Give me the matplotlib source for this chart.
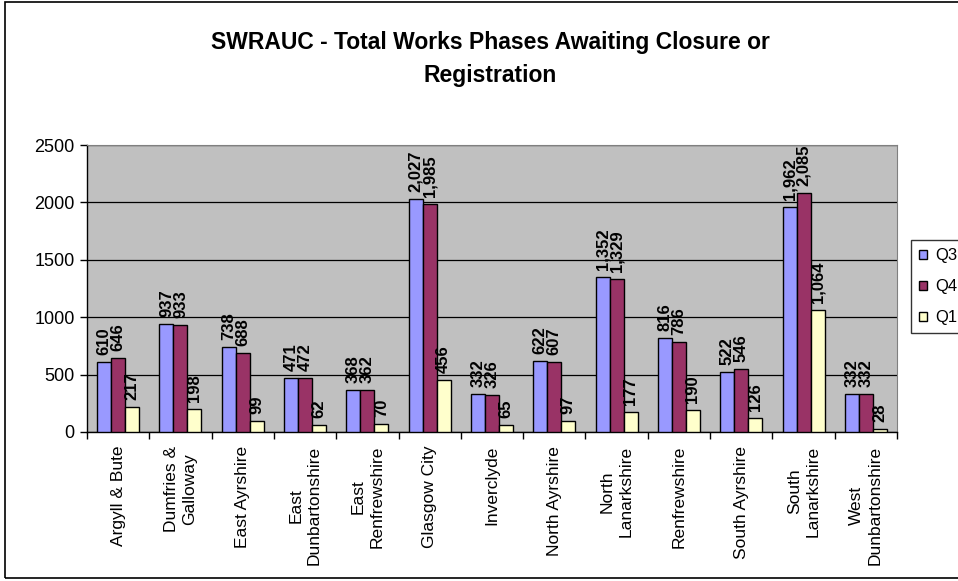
import matplotlib
matplotlib.use("Agg")
import matplotlib.pyplot as plt
import numpy as np
from matplotlib.patches import Rectangle

categories = ["Argyll & Bute", "Dumfries &\nGalloway", "East Ayrshire", "East\nDunbartonshire",
              "East\nRenfrewshire", "Glasgow City", "Inverclyde", "North Ayrshire",
              "North\nLanarkshire", "Renfrewshire", "South Ayrshire", "South\nLanarkshire",
              "West\nDunbartonshire"]
q3 = [610, 937, 738, 471, 368, 2027, 332, 622, 1352, 816, 522, 1962, 332]
q4 = [646, 933, 688, 472, 362, 1985, 326, 607, 1329, 786, 546, 2085, 332]
q1 = [217, 198, 99, 62, 70, 456, 65, 97, 177, 190, 126, 1064, 28]
series_names = ["Q3", "Q4", "Q1"]
colors = ["#9999FF", "#993366", "#FFFFCC"]
title = "SWRAUC - Total Works Phases Awaiting Closure or\nRegistration"
yticks = [0, 500, 1000, 1500, 2000, 2500]

plt.rcParams['font.family'] = ['Liberation Sans', 'DejaVu Sans']

W, H = 958, 581
fig = plt.figure(figsize=(W/100, H/100), dpi=100)
fig.patch.set_facecolor("white")
# figure border (left, top, bottom; right cut off)
fig.add_artist(Rectangle((5/W, 3/H), 1.2, (H-5)/H, transform=fig.transFigure,
                         fill=False, edgecolor="black", linewidth=1.2))

ax = fig.add_axes([87/W, (H-432)/H, (897-87)/W, (432-145)/H])
ax.set_facecolor("#C0C0C0")

x = np.arange(len(categories))
bw = 0.225
for i, (vals, c, name) in enumerate(zip([q3, q4, q1], colors, series_names)):
    pos = x + (i - 1) * bw
    ax.bar(pos, vals, width=bw, color=c, edgecolor="black", linewidth=1.0, label=name, zorder=3)
    for p, v in zip(pos, vals):
        ax.annotate(f"{v:,}", (p, v), xytext=(0, 5), textcoords="offset points",
                    rotation=90, ha="center", va="bottom",
                    fontsize=12, fontweight="bold", zorder=4)

ax.set_xlim(-0.5, len(categories) - 0.5)
ax.set_ylim(0, 2500)
ax.set_yticks(yticks)
ax.set_yticklabels([str(t) for t in yticks], fontsize=13)
ax.yaxis.grid(True, color="black", linewidth=0.9, zorder=1)
ax.set_axisbelow(True)

ax.set_xticks(x)
ax.set_xticklabels(categories, rotation=90, fontsize=12.5, ha="center", va="top",
                   multialignment="center", linespacing=1.3)
ax.tick_params(axis="x", which="major", length=0, pad=10)
ax.set_xticks(np.arange(len(categories) + 1) - 0.5, minor=True)
ax.tick_params(axis="x", which="minor", length=5, width=1, color="black")
ax.tick_params(axis="y", length=5, width=1, pad=4)

for s in ["top", "right"]:
    ax.spines[s].set_color("#808080")
for s in ["left", "bottom"]:
    ax.spines[s].set_color("black")
    ax.spines[s].set_linewidth(1.0)

fig.text(490/W, 1 - 59/H, title, ha="center", va="center", fontsize=16.5,
         fontweight="bold", linespacing=1.55)

leg = fig.legend(loc="upper left", bbox_to_anchor=(911/W, 1 - 240/H), fontsize=12,
                 frameon=True, fancybox=False, edgecolor="black", handlelength=0.45,
                 handleheight=0.45, handletextpad=0.5, labelspacing=0.95,
                 borderpad=0.5, borderaxespad=0)
leg.get_frame().set_linewidth(1.0)

fig.savefig("out.png", dpi=100, facecolor="white")
